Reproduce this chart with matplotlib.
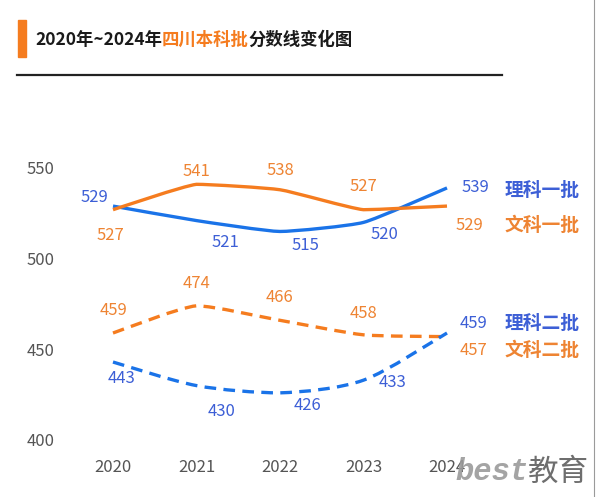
#!/usr/bin/env python3
"""Sichuan undergraduate cut-off scores 2020-2024."""
import matplotlib
matplotlib.use("Agg")
import matplotlib.pyplot as plt
import numpy as np
from matplotlib.path import Path
from matplotlib.patches import PathPatch

plt.rcParams["font.family"] = ["Noto Sans CJK SC", "DejaVu Sans"]

years = [2020, 2021, 2022, 2023, 2024]
li_1 = [529, 521, 515, 520, 539]   # 理科一批
wen_1 = [527, 541, 538, 527, 529]  # 文科一批
wen_2 = [459, 474, 466, 458, 457]  # 文科二批
li_2 = [443, 430, 426, 433, 459]   # 理科二批
series_names = ["理科一批", "文科一批", "理科二批", "文科二批"]
y_ticks = [400, 450, 500, 550]

BLUE = "#1a73e8"
BLUE_TXT = "#3d5fd6"
ORANGE = "#f57c1f"
ORANGE_TXT = "#ee8433"


def smooth_path(xs, ys, k=0.1):
    xs = np.asarray(xs, float)
    ys = np.asarray(ys, float)
    verts = [(xs[0], ys[0])]
    codes = [Path.MOVETO]
    n = len(xs)
    for i in range(n - 1):
        p0 = (xs[max(i - 1, 0)], ys[max(i - 1, 0)])
        p1 = (xs[i], ys[i])
        p2 = (xs[i + 1], ys[i + 1])
        p3 = (xs[min(i + 2, n - 1)], ys[min(i + 2, n - 1)])
        c1 = (p1[0] + k * (p2[0] - p0[0]), p1[1] + k * (p2[1] - p0[1]))
        c2 = (p2[0] - k * (p3[0] - p1[0]), p2[1] - k * (p3[1] - p1[1]))
        lo, hi = min(p1[1], p2[1]), max(p1[1], p2[1])
        c1 = (c1[0], min(max(c1[1], lo), hi))
        c2 = (c2[0], min(max(c2[1], lo), hi))
        verts += [c1, c2, p2]
        codes += [Path.CURVE4] * 3
    return Path(verts, codes)


fig = plt.figure(figsize=(6.0, 4.97), dpi=100)
ax = fig.add_axes([113 / 600, 1 - 440 / 497, 334 / 600, 272 / 497])
ax.set_xlim(2020, 2024)
ax.set_ylim(400, 550)
for s in ax.spines.values():
    s.set_visible(False)
ax.set_yticks(y_ticks)
ax.set_xticks(years)
ax.tick_params(length=0, labelsize=12, labelcolor="#555555")
ax.tick_params(axis="y", pad=42)
ax.tick_params(axis="x", pad=14)

lines = [
    (li_1, BLUE, "-", 0.08),
    (wen_1, ORANGE, "-", 0.08),
    (wen_2, ORANGE, "--", 0.1),
    (li_2, BLUE, "--", 0.14),
]
for vals, col, ls, k in lines:
    patch = PathPatch(smooth_path(years, vals, k), fill=False, edgecolor=col,
                      lw=2.4, linestyle=ls, clip_on=False, capstyle="butt")
    if ls == "--":
        patch.set_linestyle((0, (3.5, 2.2)))
    ax.add_patch(patch)

# value labels: offsets in pixels (dx, dy) relative to each point
offsets = {
    "li_1": [(-19, 9), (29, -22), (25, -14), (21, -12), (28, 0)],
    "wen_1": [(-3, -26), (0, 13), (0, 19), (0, 23), (22, -19)],
    "wen_2": [(0, 23), (0, 22), (0, 23), (0, 21), (26, -14)],
    "li_2": [(9, -16), (25, -26), (27, -13), (29, -2), (26, 10)],
}
data = {"li_1": (li_1, BLUE_TXT), "wen_1": (wen_1, ORANGE_TXT),
        "wen_2": (wen_2, ORANGE_TXT), "li_2": (li_2, BLUE_TXT)}
for key, (vals, col) in data.items():
    for x, v, (dx, dy) in zip(years, vals, offsets[key]):
        ax.annotate(str(v), (x, v), xytext=(dx * 0.72, dy * 0.72),
                    textcoords="offset points", ha="center", va="center",
                    fontsize=12, color=col, annotation_clip=False)

# series names on the right
name_pos = [(190, BLUE_TXT), (225, ORANGE_TXT), (323, BLUE_TXT), (350, ORANGE_TXT)]
for name, (py, col) in zip(series_names, name_pos):
    fig.text(542 / 600, 1 - py / 497, name, ha="center", va="center",
             fontsize=13.5, fontweight="bold", color=col)

# title block
fig.patches.append(plt.Rectangle((18 / 600, 1 - 57 / 497), 8 / 600, 37 / 497,
                                 transform=fig.transFigure, color=ORANGE))
fig.add_artist(plt.Line2D([17 / 600, 502 / 600], [1 - 75 / 497, 1 - 75 / 497],
                          transform=fig.transFigure, color="#222222", lw=1.6))
title_parts = [("2020年~2024年", "#1a1a1a"), ("四川本科批", ORANGE), ("分数线变化图", "#1a1a1a")]
x0 = 35 / 600
renderer = fig.canvas.get_renderer()
for txt, col in title_parts:
    t = fig.text(x0, 1 - 40 / 497, txt, ha="left", va="center", fontsize=12.5,
                 fontweight="bold", color=col)
    bb = t.get_window_extent(renderer=renderer)
    x0 += bb.width / fig.bbox.width

# right border
fig.add_artist(plt.Line2D([593.5 / 600, 593.5 / 600], [0, 1],
                          transform=fig.transFigure, color="#9a9a9a", lw=0.8))

# watermark
wm = fig.text(455 / 600, 1 - 472 / 497, "best", ha="left", va="center",
              fontsize=22, style="italic", fontweight="bold",
              family=["Liberation Mono", "DejaVu Sans Mono"], color="#9a9a9a", alpha=0.9)
bb = wm.get_window_extent(renderer=renderer)
fig.text(bb.x1 / fig.bbox.width, 1 - 472 / 497, "教育", ha="left", va="center",
         fontsize=22, color="#6e6e6e")

fig.savefig("out.png", dpi=100)
